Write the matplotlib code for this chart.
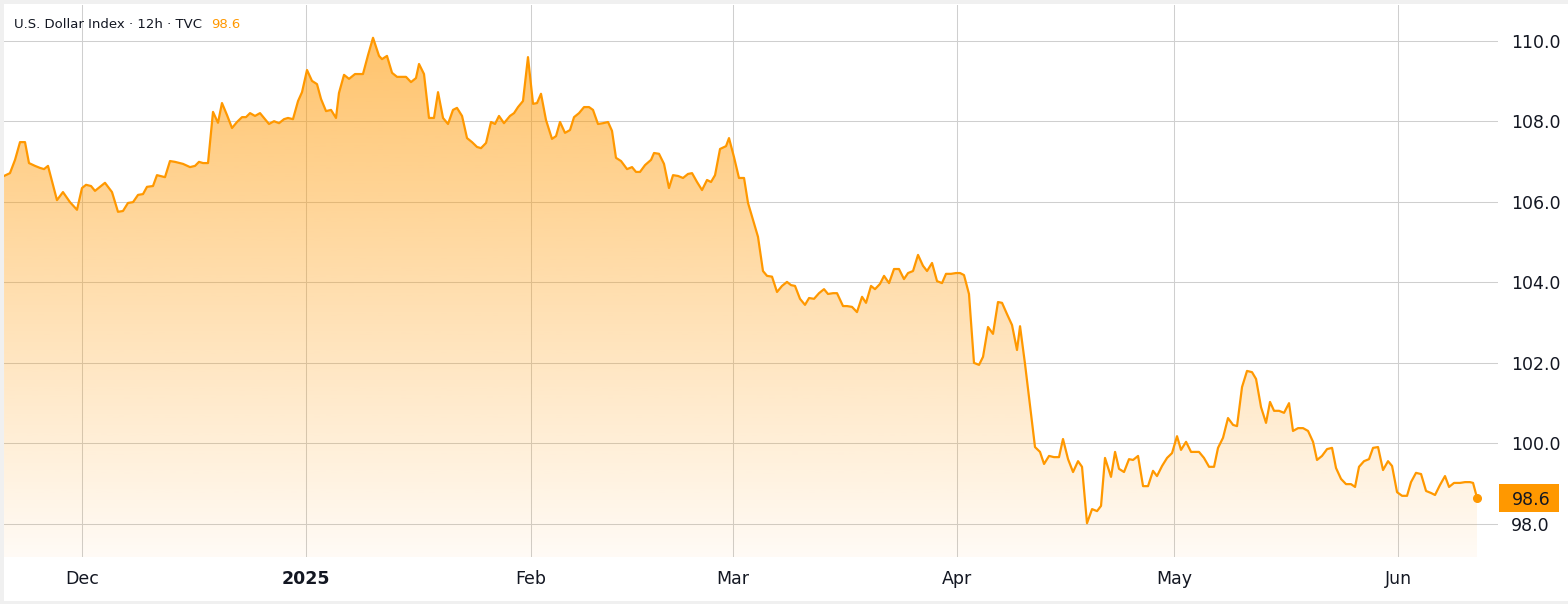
import numpy as np
import pandas as pd
import matplotlib
matplotlib.use("Agg")
import matplotlib.pyplot as plt
import matplotlib.dates as mdates
import matplotlib.transforms as mtransforms
from matplotlib.patches import Rectangle, Polygon
from matplotlib.colors import to_rgb

# ---------------- data ----------------
title_text = "U.S. Dollar Index · 12h · TVC"
last_label = "98.6"

days_since_dec1 = [
    -10.81, -9.99, -9.29, -8.60, -7.91, -7.36, -6.53, -5.84, -5.28, -4.73, -3.49, -2.66, -1.69, -0.72,
    -0.03, 0.53, 1.22, 1.77, 3.15, 4.12, 4.95, 5.64, 6.33, 7.03, 7.72, 8.41, 8.96, 9.79, 10.34, 11.45,
    12.14, 12.83, 13.94, 14.91, 15.60, 16.15, 16.71, 17.40, 18.09, 18.78, 19.33, 20.03, 20.72, 21.41,
    22.10, 22.65, 23.21, 23.90, 24.59,
    25.14, 25.83, 26.53, 27.22, 27.91, 28.46, 29.15, 29.85, 30.40, 31.09, 31.78, 32.47, 33.03, 33.72,
    34.41, 35.10, 35.51, 36.21, 36.90, 37.73, 38.83, 39.53, 40.22, 41.05, 41.46, 42.15, 42.85, 43.54,
    44.23, 44.78, 45.47, 46.16, 46.58, 47.27, 47.96, 48.65, 49.21, 49.90, 50.59, 51.28, 51.83, 52.53,
    53.22, 53.91, 54.60, 55.15, 55.85, 56.54, 57.09, 57.64, 58.33, 59.16,
    59.72, 60.27, 60.96, 61.65, 62.35, 62.90, 63.45, 64.14, 64.97, 65.53, 66.08, 66.77, 67.46, 68.02,
    68.71, 69.40, 70.09, 70.64, 71.33, 72.03, 72.72, 73.27, 73.82, 74.52, 75.35, 76.04, 76.59, 77.14,
    77.84, 78.67, 79.08, 79.77, 80.46, 81.15, 81.71, 82.40, 83.09, 83.78, 84.34, 85.03, 85.72, 86.41,
    86.96, 87.52, 88.21, 89.04, 89.45, 90.14, 90.83, 91.53,
    92.08, 92.77, 93.46, 94.15, 94.71, 95.40, 96.09, 96.78, 97.47, 98.03, 98.58, 99.27, 99.96, 100.52,
    101.21, 101.90, 102.59, 103.14, 103.84, 104.39, 105.22, 105.77, 106.46, 107.15, 107.85, 108.40,
    109.09, 109.64, 110.33, 110.89, 111.58, 112.27, 112.96, 113.65, 114.21, 114.90, 115.59, 116.28,
    116.84, 117.53, 118.22, 118.91, 119.46, 120.15, 120.85, 121.40, 121.95, 122.64, 123.33, 124.03,
    124.58, 125.27, 125.96, 126.65, 127.21, 127.90, 128.59, 129.28, 129.70, 130.39, 131.08, 131.77,
    132.46, 133.02, 133.71, 134.40, 135.09, 135.64, 136.34, 137.03, 137.72, 138.27, 138.96, 139.66,
    140.35, 140.90, 141.45, 142.28, 142.84, 143.39, 144.08, 144.77, 145.33, 146.02, 146.71, 147.40,
    148.09, 148.64, 149.34, 150.03, 150.72, 151.41, 151.96, 152.66, 153.35, 154.04, 154.45, 155.14,
    155.84, 156.53, 157.08, 157.77, 158.46, 159.16, 159.71, 160.40, 161.09, 161.78, 162.34, 163.03,
    163.72, 164.27, 164.83, 165.52, 166.21, 166.90, 167.45, 168.15, 168.84, 169.53, 170.22, 170.77,
    171.46, 172.16, 172.85, 173.40, 174.09, 174.78, 175.47, 176.03, 176.58, 177.27, 177.96, 178.52,
    179.21, 179.90, 180.59, 181.15, 181.84, 182.53, 183.22, 183.77, 184.46, 185.16, 185.85, 186.54,
    187.09, 187.78, 188.47, 189.03, 189.72, 190.55, 191.24, 191.93, 192.35, 192.90,
]

dxy_close = [
    106.64, 106.71, 107.04, 107.48, 107.48, 106.96, 106.89, 106.84, 106.81, 106.89, 106.04, 106.24, 105.99, 105.80,
    106.34, 106.42, 106.39, 106.27, 106.47, 106.24, 105.75, 105.77, 105.97, 105.99, 106.17, 106.19, 106.37, 106.39,
    106.66, 106.61, 107.01, 106.99, 106.94, 106.86, 106.89, 106.99, 106.96, 106.96, 108.23, 107.96, 108.45, 108.15,
    107.83, 107.98, 108.10, 108.10, 108.20, 108.13, 108.20,
    108.08, 107.93, 108.00, 107.95, 108.05, 108.08, 108.05, 108.50, 108.72, 109.27, 109.00, 108.92, 108.55, 108.25,
    108.28, 108.08, 108.70, 109.15, 109.05, 109.17, 109.17, 109.64, 110.07, 109.62, 109.54, 109.62, 109.20, 109.10,
    109.10, 109.10, 108.97, 109.07, 109.42, 109.17, 108.08, 108.08, 108.72, 108.08, 107.93, 108.28, 108.33, 108.13,
    107.58, 107.48, 107.36, 107.33, 107.46, 107.98, 107.93, 108.13, 107.95, 108.13,
    108.20, 108.35, 108.50, 109.59, 108.43, 108.45, 108.68, 108.03, 107.56, 107.63, 107.98, 107.71, 107.78, 108.10,
    108.20, 108.35, 108.35, 108.28, 107.93, 107.95, 107.98, 107.76, 107.09, 107.01, 106.81, 106.86, 106.74, 106.74,
    106.91, 107.04, 107.21, 107.19, 106.94, 106.34, 106.66, 106.64, 106.59, 106.69, 106.71, 106.49, 106.29, 106.54,
    106.49, 106.66, 107.31, 107.38, 107.58, 107.11, 106.59, 106.59,
    105.97, 105.55, 105.13, 104.28, 104.16, 104.14, 103.76, 103.91, 104.01, 103.93, 103.91, 103.59, 103.44, 103.61,
    103.59, 103.73, 103.83, 103.71, 103.73, 103.73, 103.41, 103.41, 103.39, 103.26, 103.64, 103.49,
    103.91, 103.83, 103.96, 104.16, 103.98, 104.33, 104.33, 104.08, 104.23, 104.28, 104.68, 104.41,
    104.28, 104.48, 104.03, 103.98, 104.21, 104.21, 104.23, 104.23, 104.18, 103.71, 102.00, 101.95,
    102.15, 102.89, 102.72, 103.51, 103.49, 103.21, 102.94, 102.32, 102.91, 101.97, 100.95, 99.91,
    99.79, 99.49, 99.69, 99.66, 99.66, 100.11, 99.61, 99.29, 99.56, 99.42, 98.02, 98.37,
    98.32, 98.45, 99.64, 99.17, 99.79, 99.37, 99.29, 99.61, 99.59, 99.69, 98.94, 98.94,
    99.32, 99.19, 99.44, 99.64, 99.76, 100.18, 99.84, 100.04, 99.79, 99.79, 99.79, 99.64,
    99.42, 99.42, 99.89, 100.14, 100.63, 100.46, 100.43, 101.40, 101.80, 101.77, 101.60, 100.90,
    100.51, 101.03, 100.81, 100.81, 100.76, 101.00, 100.31, 100.38, 100.38, 100.31, 100.04, 99.59,
    99.69, 99.86, 99.89, 99.39, 99.12, 98.99, 98.99, 98.92, 99.42, 99.56, 99.61, 99.89,
    99.91, 99.34, 99.56, 99.44, 98.79, 98.70, 98.70, 99.04, 99.27, 99.24, 98.82, 98.77,
    98.72, 98.97, 99.19, 98.92, 99.02, 99.02, 99.04, 99.04, 99.02, 98.65,
]

month_ticks = ["2024-12-01", "2025-01-01", "2025-02-01", "2025-03-01",
               "2025-04-01", "2025-05-01", "2025-06-01"]
month_labels = ["Dec", "2025", "Feb", "Mar", "Apr", "May", "Jun"]
y_ticks = [98, 100, 102, 104, 106, 108, 110]

# ---------------- style ----------------
W, H = 1568, 604
ORANGE = "#FF9800"
TEXT = "#131722"
GRID = "#cfcfcf"

n = min(len(days_since_dec1), len(dxy_close))
base = pd.Timestamp("2024-12-01")
dates = base + pd.to_timedelta(np.array(days_since_dec1[:n]), unit="D")
vals = np.array(dxy_close[:n])
xn = mdates.date2num(dates.to_pydatetime())

x_lo = mdates.date2num((base + pd.Timedelta(days=-10.815)).to_pydatetime())
x_hi = mdates.date2num((base + pd.Timedelta(days=195.80)).to_pydatetime())
y_lo, y_hi = 97.181, 110.884

fig = plt.figure(figsize=(W / 100, H / 100), dpi=100, facecolor="#f0f0f0")
fig.patches.append(Rectangle((4 / W, 3 / H), (W - 4) / W, (H - 7) / H,
                             transform=fig.transFigure, facecolor="white",
                             edgecolor="none", zorder=-10))

ax = fig.add_axes([4 / W, 47 / H, 1494 / W, 552 / H])
ax.set_zorder(1)
ax.set_facecolor("white")
for s in ax.spines.values():
    s.set_visible(False)

ax.set_axisbelow(True)
ax.grid(True, color=GRID, linewidth=0.75)

# gradient fill under the line
verts = np.column_stack([np.r_[xn[0], xn, xn[-1]], np.r_[y_lo, vals, y_lo]])
poly = Polygon(verts, closed=True, facecolor="none", edgecolor="none")
ax.add_patch(poly)
ng = 256
rgba = np.zeros((ng, 1, 4))
rgba[..., :3] = to_rgb(ORANGE)
rgba[:, 0, 3] = np.linspace(0.04, 0.58, ng)
im = ax.imshow(rgba, extent=[xn[0], xn[-1], y_lo, vals.max()], origin="lower",
               aspect="auto", zorder=1, interpolation="bilinear")
im.set_clip_path(poly)

ax.plot(xn, vals, color=ORANGE, linewidth=1.6, zorder=3, solid_joinstyle="round")
ax.plot([xn[-1]], [vals[-1]], "o", color=ORANGE, markersize=5.5, zorder=4)

ax.set_xlim(x_lo, x_hi)
ax.set_ylim(y_lo, y_hi)

# axes ticks
ax.yaxis.tick_right()
ax.set_yticks(y_ticks)
ax.set_yticklabels([f"{v:.1f}" for v in y_ticks])
ax.set_xticks([mdates.date2num(pd.Timestamp(d).to_pydatetime()) for d in month_ticks])
ax.set_xticklabels(month_labels)
for lab in ax.get_xticklabels():
    if lab.get_text() == "2025":
        lab.set_fontweight("bold")
ax.tick_params(axis="both", length=0, labelsize=12.5, labelcolor=TEXT)
ax.tick_params(axis="y", pad=9.5)
ax.tick_params(axis="x", pad=9)

# last price tag on the right axis
blend = mtransforms.blended_transform_factory(ax.transAxes, ax.transData)
box_h = 28 / 40.28
ax.add_patch(Rectangle((1.0007, vals[-1] - box_h / 2), 0.0402, box_h, transform=blend,
                       facecolor=ORANGE, edgecolor="none", clip_on=False, zorder=5))
ax.text(1.0221, vals[-1], last_label, transform=blend, ha="center", va="center_baseline",
        fontsize=12.5, color=TEXT, zorder=6, clip_on=False)

# title
t = fig.text(14 / W, 1 - 24 / H, title_text, ha="left", va="center", fontsize=9.5, color=TEXT)
t.set_zorder(5)
fig.canvas.draw()
bb = t.get_window_extent(fig.canvas.get_renderer())
t2 = fig.text((bb.x1 + 9) / W, 1 - 24 / H, last_label, ha="left", va="center",
              fontsize=9.5, color=ORANGE)
t2.set_zorder(5)

fig.savefig("out.png", dpi=100, facecolor=fig.get_facecolor())
